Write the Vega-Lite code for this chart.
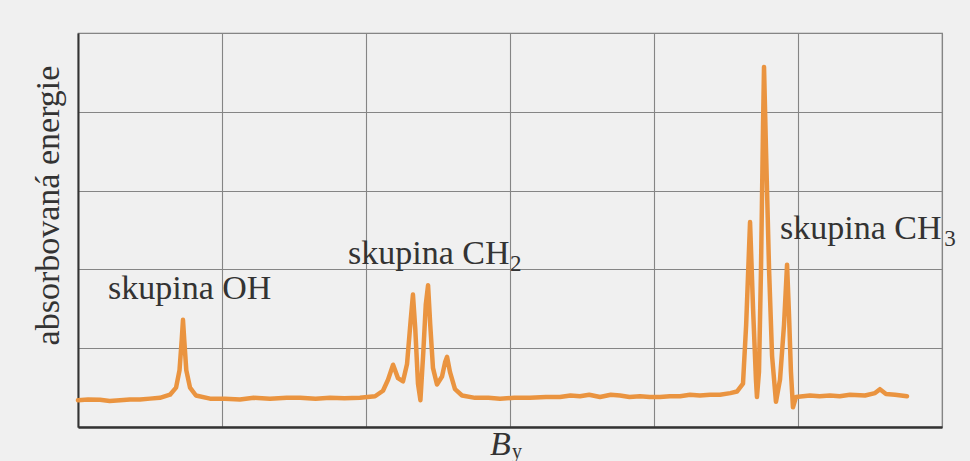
{
  "$schema": "https://vega.github.io/schema/vega-lite/v6.json",
  "width": 864,
  "height": 394,
  "autosize": {"type": "none"},
  "padding": {"left": 78, "top": 33, "right": 28, "bottom": 34},
  "background": "#f0f0f0",
  "config": {
    "view": {"stroke": "#7a7a7a", "strokeWidth": 1.2},
    "font": "Liberation Serif"
  },
  "datasets": {
    "spectrum": [
      {"b": 0.0, "e": 0.34}, {"b": 0.07, "e": 0.35}, {"b": 0.153, "e": 0.345}, {"b": 0.22, "e": 0.33}, {"b": 0.292, "e": 0.34},
      {"b": 0.36, "e": 0.35}, {"b": 0.431, "e": 0.35}, {"b": 0.5, "e": 0.36}, {"b": 0.569, "e": 0.37}, {"b": 0.639, "e": 0.41},
      {"b": 0.681, "e": 0.5}, {"b": 0.705, "e": 0.72}, {"b": 0.72, "e": 1.1}, {"b": 0.729, "e": 1.36}, {"b": 0.738, "e": 1.1},
      {"b": 0.752, "e": 0.72}, {"b": 0.778, "e": 0.5}, {"b": 0.819, "e": 0.4}, {"b": 0.917, "e": 0.36}, {"b": 1.02, "e": 0.36},
      {"b": 1.125, "e": 0.35}, {"b": 1.22, "e": 0.37}, {"b": 1.333, "e": 0.36}, {"b": 1.45, "e": 0.37}, {"b": 1.542, "e": 0.37},
      {"b": 1.65, "e": 0.36}, {"b": 1.75, "e": 0.37}, {"b": 1.85, "e": 0.365}, {"b": 1.958, "e": 0.37}, {"b": 2.063, "e": 0.39},
      {"b": 2.118, "e": 0.46}, {"b": 2.153, "e": 0.6}, {"b": 2.188, "e": 0.79}, {"b": 2.222, "e": 0.62}, {"b": 2.257, "e": 0.58},
      {"b": 2.285, "e": 0.8}, {"b": 2.31, "e": 1.35}, {"b": 2.326, "e": 1.68}, {"b": 2.342, "e": 1.25}, {"b": 2.361, "e": 0.55},
      {"b": 2.378, "e": 0.34}, {"b": 2.398, "e": 0.95}, {"b": 2.415, "e": 1.55}, {"b": 2.431, "e": 1.8}, {"b": 2.446, "e": 1.3},
      {"b": 2.465, "e": 0.75}, {"b": 2.493, "e": 0.54}, {"b": 2.528, "e": 0.64}, {"b": 2.549, "e": 0.82}, {"b": 2.563, "e": 0.89},
      {"b": 2.583, "e": 0.7}, {"b": 2.618, "e": 0.48}, {"b": 2.667, "e": 0.4}, {"b": 2.757, "e": 0.37}, {"b": 2.85, "e": 0.37},
      {"b": 2.931, "e": 0.36}, {"b": 3.03, "e": 0.37}, {"b": 3.139, "e": 0.37}, {"b": 3.25, "e": 0.38}, {"b": 3.347, "e": 0.38},
      {"b": 3.42, "e": 0.4}, {"b": 3.486, "e": 0.39}, {"b": 3.55, "e": 0.41}, {"b": 3.625, "e": 0.38}, {"b": 3.7, "e": 0.41},
      {"b": 3.764, "e": 0.4}, {"b": 3.83, "e": 0.38}, {"b": 3.903, "e": 0.39}, {"b": 3.97, "e": 0.38}, {"b": 4.042, "e": 0.38},
      {"b": 4.11, "e": 0.39}, {"b": 4.181, "e": 0.39}, {"b": 4.25, "e": 0.41}, {"b": 4.319, "e": 0.4}, {"b": 4.39, "e": 0.41},
      {"b": 4.458, "e": 0.41}, {"b": 4.53, "e": 0.43}, {"b": 4.576, "e": 0.45}, {"b": 4.618, "e": 0.55}, {"b": 4.64, "e": 1.3},
      {"b": 4.667, "e": 2.6}, {"b": 4.688, "e": 1.5}, {"b": 4.708, "e": 0.6}, {"b": 4.715, "e": 0.38}, {"b": 4.729, "e": 0.7},
      {"b": 4.743, "e": 2.0}, {"b": 4.757, "e": 3.8}, {"b": 4.764, "e": 4.57}, {"b": 4.778, "e": 3.5}, {"b": 4.799, "e": 2.0},
      {"b": 4.82, "e": 0.9}, {"b": 4.847, "e": 0.32}, {"b": 4.875, "e": 0.6}, {"b": 4.903, "e": 1.3}, {"b": 4.924, "e": 2.06},
      {"b": 4.938, "e": 1.4}, {"b": 4.951, "e": 0.7}, {"b": 4.965, "e": 0.25}, {"b": 4.986, "e": 0.38}, {"b": 5.083, "e": 0.4},
      {"b": 5.15, "e": 0.39}, {"b": 5.222, "e": 0.4}, {"b": 5.29, "e": 0.39}, {"b": 5.361, "e": 0.41}, {"b": 5.465, "e": 0.4},
      {"b": 5.535, "e": 0.43}, {"b": 5.569, "e": 0.48}, {"b": 5.611, "e": 0.42}, {"b": 5.674, "e": 0.41}, {"b": 5.757, "e": 0.39}
    ],
    "labels": [
      {"b": 0.208, "e": 1.62, "t": "skupina OH"},
      {"b": 1.875, "e": 2.07, "t": "skupina CH"},
      {"b": 4.875, "e": 2.38, "t": "skupina CH"}
    ],
    "subs": [
      {"b": 3.0, "e": 1.98, "t": "2"},
      {"b": 6.015, "e": 2.3, "t": "3"}
    ],
    "xtitle": [
      {"b": 2.861, "e": -0.355, "t": "B"}
    ],
    "xsub": [
      {"b": 3.014, "e": -0.395, "t": "y"}
    ]
  },
  "layer": [
    {
      "data": {"name": "spectrum"},
      "mark": {"type": "line", "color": "#ea9440", "strokeWidth": 4.5, "strokeJoin": "round", "strokeCap": "round", "clip": false},
      "encoding": {
        "x": {
          "field": "b", "type": "quantitative",
          "scale": {"domain": [0, 6], "nice": false, "zero": false},
          "axis": {
            "values": [0, 1, 2, 3, 4, 5, 6], "grid": true, "gridColor": "#858585", "gridWidth": 1.1, "gridOpacity": 1,
            "labels": false, "ticks": false, "title": null,
            "domainColor": "#333333", "domainWidth": 2.5
          }
        },
        "y": {
          "field": "e", "type": "quantitative",
          "scale": {"domain": [0, 5], "nice": false, "zero": false},
          "axis": {
            "values": [0, 1, 2, 3, 4, 5], "grid": true, "gridColor": "#858585", "gridWidth": 1.1, "gridOpacity": 1,
            "labels": false, "ticks": false,
            "domainColor": "#333333", "domainWidth": 2,
            "title": "absorbovaná energie",
            "titleFont": "Liberation Serif", "titleFontSize": 34, "titleFontWeight": "normal", "titleColor": "#333333",
            "titleX": -30, "titleY": 172, "titleAngle": 270, "titleAlign": "center", "titleBaseline": "middle"
          }
        }
      }
    },
    {
      "data": {"name": "labels"},
      "mark": {"type": "text", "font": "Liberation Serif", "fontSize": 34, "color": "#333333", "align": "left", "baseline": "alphabetic", "clip": false},
      "encoding": {
        "x": {"field": "b", "type": "quantitative"},
        "y": {"field": "e", "type": "quantitative"},
        "text": {"field": "t"}
      }
    },
    {
      "data": {"name": "subs"},
      "mark": {"type": "text", "font": "Liberation Serif", "fontSize": 23, "color": "#333333", "align": "left", "baseline": "alphabetic", "clip": false},
      "encoding": {
        "x": {"field": "b", "type": "quantitative"},
        "y": {"field": "e", "type": "quantitative"},
        "text": {"field": "t"}
      }
    },
    {
      "data": {"name": "xtitle"},
      "mark": {"type": "text", "font": "Liberation Serif", "fontSize": 34, "fontStyle": "italic", "color": "#333333", "align": "left", "baseline": "alphabetic", "clip": false},
      "encoding": {
        "x": {"field": "b", "type": "quantitative"},
        "y": {"field": "e", "type": "quantitative"},
        "text": {"field": "t"}
      }
    },
    {
      "data": {"name": "xsub"},
      "mark": {"type": "text", "font": "Liberation Serif", "fontSize": 20, "color": "#333333", "align": "left", "baseline": "alphabetic", "clip": false},
      "encoding": {
        "x": {"field": "b", "type": "quantitative"},
        "y": {"field": "e", "type": "quantitative"},
        "text": {"field": "t"}
      }
    }
  ]
}
